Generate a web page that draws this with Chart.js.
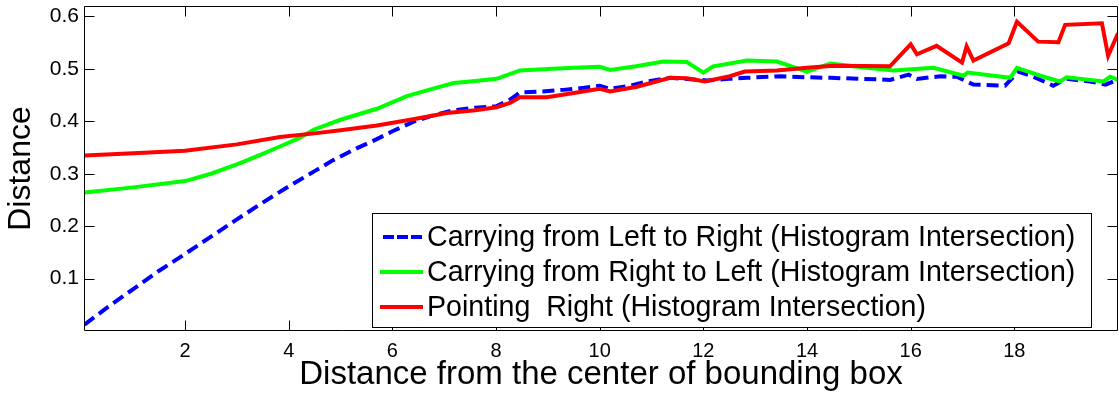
<!DOCTYPE html>
<html>
<head>
<meta charset="utf-8">
<script src="https://cdn.jsdelivr.net/npm/chart.js@4.4.1/dist/chart.umd.min.js"></script>
<style>
  html, body { margin: 0; padding: 0; background: #fff; }
  #wrap { width: 1119px; height: 396px; }
</style>
</head>
<body>
<div id="wrap"><canvas id="c" width="1119" height="396"></canvas></div>
<script>
// Axis ticks
const xTicks = [2, 4, 6, 8, 10, 12, 14, 16, 18];
const yTicks = [0.1, 0.2, 0.3, 0.4, 0.5, 0.6];

// Series names
const seriesNames = [
  'Carrying from Left to Right (Histogram Intersection)',
  'Carrying from Right to Left (Histogram Intersection)',
  'Pointing  Right (Histogram Intersection)'
];

// Carrying from Left to Right
const leftToRightX = [0.06, 0.5, 1, 1.5, 2, 2.5, 3, 3.5, 4, 4.5, 4.86, 5.3, 5.7, 6.0, 6.4, 6.8, 7.18, 7.6, 8.01, 8.25, 8.46, 8.9, 9.3, 9.7, 10.0, 10.2, 10.6, 10.9, 11.36, 11.94, 12.07, 12.5, 12.84, 13.48, 14.0, 14.45, 15.09, 15.6, 15.96, 16.12, 16.57, 16.89, 17.08, 17.21, 17.82, 18.08, 18.37, 18.75, 19.01, 19.46, 19.76, 19.91, 20];
const leftToRightY = [0.012, 0.045, 0.08, 0.115, 0.147, 0.18, 0.213, 0.245, 0.276, 0.305, 0.326, 0.348, 0.366, 0.381, 0.399, 0.412, 0.421, 0.426, 0.429, 0.44, 0.455, 0.457, 0.46, 0.464, 0.468, 0.462, 0.468, 0.476, 0.483, 0.479, 0.478, 0.481, 0.483, 0.486, 0.484, 0.483, 0.481, 0.479, 0.489, 0.481, 0.486, 0.485, 0.476, 0.47, 0.468, 0.495, 0.485, 0.468, 0.481, 0.476, 0.47, 0.476, 0.476];

// Carrying from Right to Left
const rightToLeftX = [0.06, 1, 2, 2.5, 3, 3.5, 3.83, 4.2, 4.48, 5, 5.7, 6.28, 6.7, 7.18, 7.6, 8.01, 8.46, 9, 9.5, 10.0, 10.2, 10.7, 11.23, 11.68, 12.0, 12.19, 12.84, 13.42, 14.0, 14.45, 15.15, 15.67, 16.44, 17.02, 17.1, 17.92, 18.05, 18.5, 18.88, 19.01, 19.72, 19.85, 20];
const rightToLeftY = [0.264, 0.274, 0.286, 0.3, 0.318, 0.338, 0.352, 0.368, 0.384, 0.403, 0.424, 0.448, 0.46, 0.473, 0.477, 0.481, 0.497, 0.5, 0.502, 0.504, 0.498, 0.505, 0.514, 0.513, 0.493, 0.505, 0.516, 0.514, 0.495, 0.51, 0.502, 0.497, 0.502, 0.487, 0.493, 0.483, 0.502, 0.487, 0.476, 0.484, 0.476, 0.485, 0.479];

// Pointing Right
const pointingX = [0.06, 1, 2, 3, 3.83, 4.5, 5, 5.7, 6.4, 7.05, 7.6, 8.01, 8.27, 8.46, 8.98, 9.5, 10.0, 10.2, 10.72, 11.36, 11.68, 12.03, 12.51, 12.8, 13.42, 14.0, 14.51, 15.6, 16.0, 16.12, 16.5, 16.99, 17.08, 17.21, 17.89, 18.05, 18.46, 18.85, 18.98, 19.69, 19.81, 20];
const pointingY = [0.335, 0.339, 0.344, 0.356, 0.37, 0.377, 0.383, 0.392, 0.404, 0.416, 0.421, 0.427, 0.435, 0.446, 0.446, 0.454, 0.462, 0.457, 0.466, 0.483, 0.482, 0.476, 0.486, 0.495, 0.497, 0.502, 0.506, 0.505, 0.547, 0.528, 0.544, 0.512, 0.543, 0.516, 0.549, 0.59, 0.552, 0.551, 0.584, 0.587, 0.525, 0.568];

const FONT = '"Liberation Sans", Arial, sans-serif';
const TICK_LEN = 10;

const toPoints = (xs, ys) => xs.map((x, i) => ({ x: x, y: ys[i] }));

// White page behind the canvas
const whiteBg = {
  id: 'whiteBg',
  beforeDraw(chart) {
    const { ctx, width, height } = chart;
    ctx.save();
    ctx.fillStyle = '#fff';
    ctx.fillRect(0, 0, width, height);
    ctx.restore();
  }
};

// Box around the plot with inward tick marks on all four sides
const boxAxes = {
  id: 'boxAxes',
  afterDatasetsDraw(chart) {
    const { ctx, chartArea: a, scales: { x, y } } = chart;
    const L = Math.round(a.left) + 0.5, R = Math.round(a.right) - 0.5;
    const T = Math.round(a.top) + 0.5, B = Math.round(a.bottom) - 0.5;
    ctx.save();
    ctx.strokeStyle = '#000';
    ctx.lineWidth = 1;
    ctx.setLineDash([]);
    ctx.beginPath();
    ctx.rect(L, T, R - L, B - T);
    x.ticks.forEach(t => {
      const p = Math.round(x.getPixelForValue(t.value)) + 0.5;
      ctx.moveTo(p, B); ctx.lineTo(p, B - TICK_LEN);
      ctx.moveTo(p, T); ctx.lineTo(p, T + TICK_LEN);
    });
    y.ticks.forEach(t => {
      const p = Math.round(y.getPixelForValue(t.value)) + 0.5;
      ctx.moveTo(L, p); ctx.lineTo(L + TICK_LEN, p);
      ctx.moveTo(R, p); ctx.lineTo(R - TICK_LEN, p);
    });
    ctx.stroke();
    ctx.restore();
  }
};

// Boxed legend in the lower right of the plot
const boxLegend = {
  id: 'boxLegend',
  afterDraw(chart) {
    const { ctx, chartArea: a } = chart;
    const w = 719, h = 114;
    const left = a.right - 746, top = a.bottom - 118;
    ctx.save();
    ctx.fillStyle = '#fff';
    ctx.fillRect(left, top, w, h);
    ctx.strokeStyle = '#000';
    ctx.lineWidth = 1;
    ctx.strokeRect(Math.round(left) + 0.5, Math.round(top) + 0.5, w, h);
    ctx.font = '28.6px ' + FONT;
    ctx.textBaseline = 'middle';
    ctx.textAlign = 'left';
    chart.data.datasets.forEach((ds, i) => {
      const cy = top + 24 + i * 35;
      ctx.beginPath();
      ctx.strokeStyle = ds.borderColor;
      ctx.lineWidth = 4;
      if (ds.borderDash && ds.borderDash.length) {
        ctx.setLineDash([11, 3]);
        ctx.moveTo(left + 11, cy);
      } else {
        ctx.setLineDash([]);
        ctx.moveTo(left + 8, cy);
      }
      ctx.lineTo(left + 51, cy);
      ctx.stroke();
      ctx.setLineDash([]);
      ctx.fillStyle = '#000';
      ctx.fillText(ds.label, left + 55, cy + 1);
    });
    ctx.restore();
  }
};

new Chart(document.getElementById('c'), {
  type: 'line',
  data: {
    datasets: [
      {
        label: seriesNames[0],
        data: toPoints(leftToRightX, leftToRightY),
        borderColor: '#0000ff',
        borderWidth: 4,
        borderDash: [12, 6],
        pointRadius: 0,
        tension: 0,
        fill: false,
        order: 2
      },
      {
        label: seriesNames[1],
        data: toPoints(rightToLeftX, rightToLeftY),
        borderColor: '#00ff00',
        borderWidth: 4,
        pointRadius: 0,
        tension: 0,
        fill: false,
        order: 1
      },
      {
        label: seriesNames[2],
        data: toPoints(pointingX, pointingY),
        borderColor: '#ff0000',
        borderWidth: 4,
        pointRadius: 0,
        tension: 0,
        fill: false,
        order: 0
      }
    ]
  },
  options: {
    responsive: false,
    animation: false,
    devicePixelRatio: 1,
    layout: { padding: { left: 0, top: 6, right: 1, bottom: 0 } },
    plugins: {
      legend: { display: false },
      tooltip: { enabled: false }
    },
    scales: {
      x: {
        type: 'linear',
        min: 0.05,
        max: 20,
        afterBuildTicks: s => { s.ticks = xTicks.map(v => ({ value: v })); },
        afterFit: s => {
          s.height = 65;
          s.paddingLeft = 0; s.paddingRight = 0; s.paddingTop = 0; s.paddingBottom = 0;
        },
        grid: { display: false, drawTicks: false },
        border: { display: false },
        ticks: {
          color: '#000',
          padding: 8,
          maxRotation: 0,
          autoSkip: false,
          font: { family: FONT, size: 20 },
          callback: v => String(v)
        },
        title: {
          display: true,
          text: 'Distance from the center of bounding box',
          color: '#000',
          font: { family: FONT, size: 33, lineHeight: 1 },
          padding: { top: 0, bottom: 5 }
        }
      },
      y: {
        type: 'linear',
        min: 0,
        max: 0.62,
        afterBuildTicks: s => { s.ticks = yTicks.map(v => ({ value: v })); },
        afterFit: s => {
          s.width = 84;
          s.paddingLeft = 0; s.paddingRight = 0; s.paddingTop = 0; s.paddingBottom = 0;
        },
        grid: { display: false, drawTicks: false },
        border: { display: false },
        ticks: {
          color: '#000',
          padding: 5,
          autoSkip: false,
          font: { family: FONT, size: 21 },
          callback: v => Number(v).toFixed(1)
        },
        title: {
          display: true,
          text: 'Distance',
          color: '#000',
          font: { family: FONT, size: 32, lineHeight: 1 },
          padding: { top: 5, bottom: 0 }
        }
      }
    }
  },
  plugins: [whiteBg, boxAxes, boxLegend]
});
</script>
</body>
</html>
